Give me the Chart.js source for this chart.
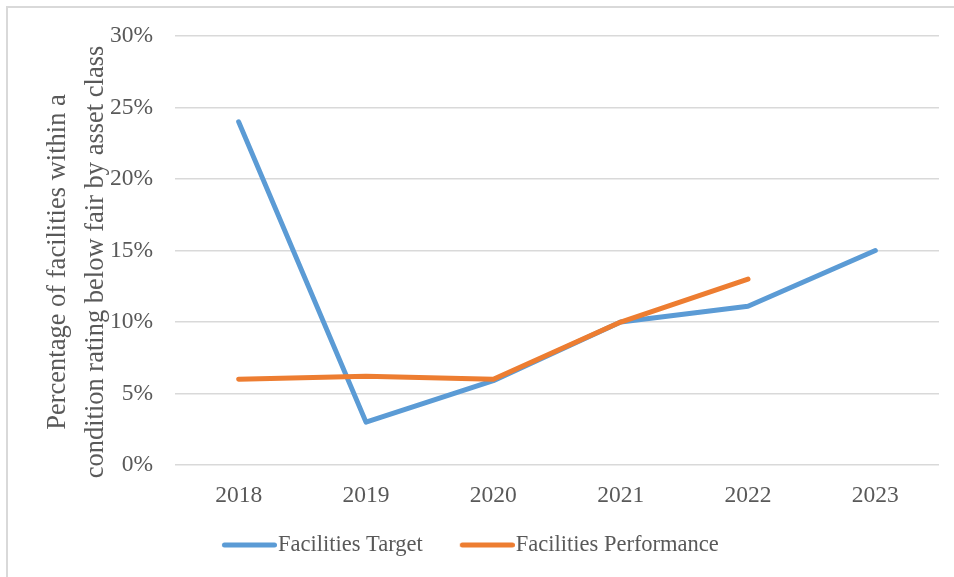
<!DOCTYPE html>
<html>
<head>
<meta charset="utf-8">
<script src="https://cdn.jsdelivr.net/npm/chart.js@4.4.1/dist/chart.umd.min.js"></script>
<style>
  html, body { margin: 0; padding: 0; background: #fff; overflow: hidden; }
  #wrap { position: relative; width: 954px; height: 577px; }
  #frame {
    position: absolute; left: 6px; top: 6px; width: 1000px; height: 1000px;
    border: 2px solid #d9d9d9; box-sizing: border-box; pointer-events: none;
  }
</style>
</head>
<body>
<div id="wrap">
  <canvas id="chart" width="954" height="577"></canvas>
  <div id="frame"></div>
</div>
<script>
const YEARS = ["2018", "2019", "2020", "2021", "2022", "2023"];
const TARGET = [24, 3, 5.9, 10, 11.1, 15];
const PERFORMANCE = [6, 6.2, 6, 10, 13, null];
const Y_TICKS = [0, 5, 10, 15, 20, 25, 30];
const SERIES_NAMES = ["Facilities Target", "Facilities Performance"];
const AXIS_TITLE = ["Percentage of facilities within a", "condition rating below fair by asset class"];

const BLUE = "#5B9BD5";
const ORANGE = "#ED7D31";
const TEXT = "#595959";
const GRID = "#D9D9D9";
const FONT = "'Liberation Serif', 'Times New Roman', serif";

// legend marker: round-capped stroke at the right end of a wider transparent
// strip, so the label text hugs the line like in the original
const MARK_W = 71;
function legendLine(color) {
  const c = document.createElement("canvas");
  c.width = MARK_W;
  c.height = 6;
  const g = c.getContext("2d");
  g.strokeStyle = color;
  g.lineWidth = 5;
  g.lineCap = "round";
  g.beginPath();
  g.moveTo(MARK_W - 52.5, 3);
  g.lineTo(MARK_W - 2.5, 3);
  g.stroke();
  return c;
}

// two-line rotated y title, sits a bit below the plot centre like the original
const axisTitle = {
  id: "axisTitle",
  afterDraw(chart) {
    const ctx = chart.ctx;
    ctx.save();
    ctx.font = `26.5px ${FONT}`;
    ctx.fillStyle = TEXT;
    ctx.textAlign = "center";
    ctx.textBaseline = "alphabetic";
    ctx.translate(0, 262);
    ctx.rotate(-Math.PI / 2);
    AXIS_TITLE.forEach((line, i) => ctx.fillText(line, 0, 65 + i * 38));
    ctx.restore();
  },
};

function lineSet(label, data, color, order) {
  return {
    label,
    data,
    order,
    borderColor: color,
    backgroundColor: color,
    borderWidth: 5,
    borderCapStyle: "round",
    borderJoinStyle: "round",
    pointRadius: 0,
    pointHoverRadius: 0,
    pointStyle: legendLine(color),
    tension: 0,
    fill: false,
  };
}

const tickFont = { family: FONT, size: 23.5 };

new Chart(document.getElementById("chart"), {
  type: "line",
  data: {
    labels: YEARS,
    datasets: [
      lineSet(SERIES_NAMES[0], TARGET, BLUE, 1),
      lineSet(SERIES_NAMES[1], PERFORMANCE, ORANGE, 0),
    ],
  },
  options: {
    responsive: false,
    animation: false,
    layout: { padding: { top: 35, right: 15, bottom: 10.75, left: -4 } },
    scales: {
      x: {
        offset: true,
        grid: { display: false },
        border: { display: false },
        ticks: { color: TEXT, font: tickFont, padding: 8.5, maxRotation: 0, autoSkip: false },
        afterFit(axis) {
          axis.height = 37.5;
        },
      },
      y: {
        min: Y_TICKS[0],
        max: Y_TICKS[Y_TICKS.length - 1],
        grid: { color: GRID, lineWidth: 1.5, drawTicks: false },
        border: { display: false },
        ticks: { color: TEXT, font: tickFont, padding: 22, callback: (v) => v + "%" },
        afterBuildTicks(axis) {
          axis.ticks = Y_TICKS.map((value) => ({ value }));
        },
        afterFit(axis) {
          axis.width = 179;
        },
      },
    },
    plugins: {
      legend: {
        position: "bottom",
        labels: {
          usePointStyle: true,
          pointStyleWidth: 50.5,
          padding: 31.25,
          color: TEXT,
          font: { family: FONT, size: 22.5 },
          sort: (a, b) => a.datasetIndex - b.datasetIndex,
        },
      },
      tooltip: { enabled: false },
    },
  },
  plugins: [axisTitle],
});
</script>
</body>
</html>
